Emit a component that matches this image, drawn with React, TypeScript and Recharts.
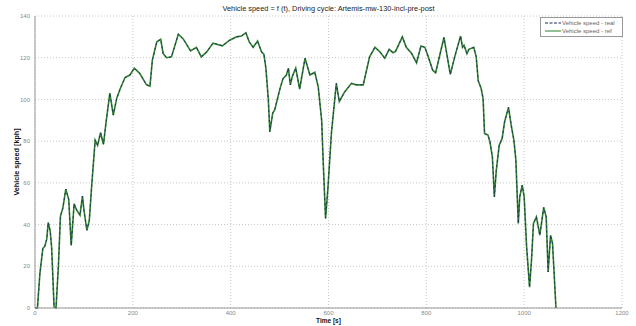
import React, { FC } from 'react';
import { LineChart, Line, XAxis, YAxis, CartesianGrid } from 'recharts';

// time [s]
const time: number[] = [
  0, 5, 10, 16, 20, 24, 27, 31, 34, 39, 43, 48, 52, 57, 63, 69, 74, 80, 85, 92,
  97, 100, 106, 111, 116, 123, 128, 134, 140, 145, 153, 160, 167, 174, 184, 194,
  203, 214, 228, 235, 240, 249, 257, 262, 269, 279, 293, 303, 318, 330, 340, 351,
  364, 383, 398, 412, 422, 431, 438, 446, 455, 463, 468, 472, 477, 480, 486, 490,
  501, 507, 514, 518, 522, 526, 533, 541, 552, 562, 572, 579, 586, 589, 594, 599,
  606, 616, 622, 633, 647, 657, 671, 684, 695, 705, 715, 724, 732, 737, 751, 759,
  770, 780, 789, 797, 804, 813, 819, 836, 849, 858, 870, 874, 877, 883, 887, 897,
  902, 906, 912, 916, 919, 926, 930, 935, 939, 943, 949, 955, 960, 968, 974, 979,
  983, 988, 991, 996, 1000, 1005, 1008, 1011, 1015, 1019, 1025, 1032, 1040, 1045,
  1049, 1054, 1058, 1065,
];

// reference speed [kph]
const speedRef: number[] = [
  0, 0, 16.5, 28.5, 29.6, 33, 41, 37, 29, 0.5, 0, 21, 44, 48, 57, 52, 30, 50, 47, 44.5,
  53.6, 47, 37.3, 42, 59, 80.5, 78, 84, 78.5, 88.5, 103, 92.5, 100.5, 105, 110.5, 111.7,
  115, 112.5, 107, 106.4, 119, 127.6, 128.8, 122, 120, 120.4, 131.3, 129, 123.3, 125, 120.4, 122.8,
  127, 125.7, 128.4, 130, 130.4, 132, 127.6, 125, 128, 122.8, 121.6, 115, 100, 84.5, 93.5, 95,
  105.3, 110, 111.7, 115, 107, 111, 115, 105, 119.7, 111.7, 113, 106, 90, 71, 43, 58,
  84, 107.7, 99, 103.6, 107.7, 107, 107, 120.4, 125, 122.8, 119.7, 124, 122.4, 123, 130, 125,
  122, 117.6, 125.6, 125, 120.4, 114, 112.8, 129.7, 112, 120.4, 130.4, 125, 126, 122, 124, 125,
  120.4, 109, 105.3, 100.5, 83.7, 82.9, 79.7, 72.5, 53.3, 66, 78, 81.3, 89.3, 96.2, 86.9, 80.5,
  71, 40.5, 53.3, 58.9, 53.3, 29.3, 19.7, 10, 22.9, 40.5, 43.7, 34.9, 48.2, 43.7,
  17.3, 34.9, 30.9, 0,
];

// measured speed follows the reference
const speedReal: number[] = speedRef.slice();

const xTicks = [0, 200, 400, 600, 800, 1000, 1200];
const yTicks = [0, 20, 40, 60, 80, 100, 120, 140];

const data = time.map((t, i) => ({ t, ref: speedRef[i], real: speedReal[i] }));

const FONT = 'Arial, "Liberation Sans", sans-serif';
const tickStyle = { fontSize: 6, fill: '#888', fontFamily: FONT };

const LegendBox: FC = () => (
  <div
    style={{
      position: 'absolute',
      left: 540,
      top: 17,
      width: 74,
      border: '1px solid #999',
      background: '#fff',
      padding: '1px 3px 1px 4px',
      fontFamily: FONT,
      fontSize: 6,
      color: '#666',
      lineHeight: '8px',
      whiteSpace: 'nowrap',
    }}
  >
    <div style={{ display: 'flex', alignItems: 'center' }}>
      <svg width={16} height={6}>
        <line x1={0} y1={3} x2={16} y2={3} stroke="#1b2a5c" strokeWidth={1} strokeDasharray="3 1.5" />
      </svg>
      <span style={{ marginLeft: 1 }}>Vehicle speed - real</span>
    </div>
    <div style={{ display: 'flex', alignItems: 'center' }}>
      <svg width={16} height={6}>
        <line x1={0} y1={3} x2={16} y2={3} stroke="#2f7f2f" strokeWidth={1} />
      </svg>
      <span style={{ marginLeft: 1 }}>Vehicle speed - ref</span>
    </div>
  </div>
);

const App: FC = () => {
  return (
    <div style={{ position: 'absolute', left: 0, top: 0, width: 636, height: 326, background: '#fff' }}>
      <div
        style={{
          position: 'absolute',
          left: 35,
          width: 587,
          top: 3,
          textAlign: 'center',
          fontFamily: FONT,
          fontSize: 7.4,
          lineHeight: '12px',
          color: '#222',
        }}
      >
        Vehicle speed = f (t), Driving cycle: Artemis-mw-130-incl-pre-post
      </div>
      <LineChart width={636} height={326} data={data} margin={{ top: 16, right: 14, left: 0, bottom: 0 }}>
        <CartesianGrid stroke="#c8c8c8" strokeDasharray="1 2" />
        <XAxis
          dataKey="t"
          type="number"
          domain={[0, 1200]}
          ticks={xTicks}
          height={18}
          tickLine={false}
          tickSize={2}
          tickMargin={1}
          tick={tickStyle}
          axisLine={{ stroke: '#999' }}
          label={{
            value: 'Time [s]',
            position: 'insideBottom',
            offset: 3,
            style: { fontSize: 6.5, fill: '#111', fontFamily: FONT, fontWeight: 600 },
          }}
        />
        <XAxis xAxisId="top" dataKey="t" type="number" domain={[0, 1200]} orientation="top" height={0} tick={false} tickLine={false} axisLine={{ stroke: '#999' }} />
        <YAxis
          type="number"
          domain={[0, 140]}
          ticks={yTicks}
          width={35}
          tickLine={false}
          tickSize={3}
          tickMargin={2}
          tick={tickStyle}
          axisLine={{ stroke: '#999' }}
          label={{
            value: 'Vehicle speed [kph]',
            angle: -90,
            position: 'insideLeft',
            offset: 16,
            style: { fontSize: 7.2, fill: '#111', fontFamily: FONT, fontWeight: 600, textAnchor: 'middle' },
          }}
        />
        <YAxis yAxisId="right" type="number" domain={[0, 140]} orientation="right" width={0} tick={false} tickLine={false} axisLine={{ stroke: '#999' }} />
        <Line
          dataKey="ref"
          type="linear"
          stroke="#2f7f2f"
          strokeWidth={1.6}
          dot={false}
          isAnimationActive={false}
        />
        <Line
          dataKey="real"
          type="linear"
          stroke="#1b2a5c"
          strokeWidth={0.9}
          strokeDasharray="2 3"
          dot={false}
          isAnimationActive={false}
        />
      </LineChart>
      <LegendBox />
    </div>
  );
};

export default App;
